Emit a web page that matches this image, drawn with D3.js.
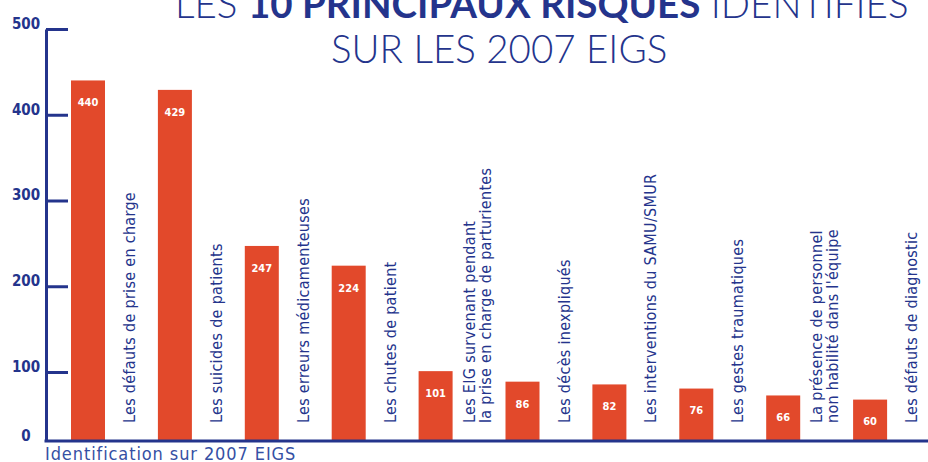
<!DOCTYPE html>
<html>
<head>
<meta charset="utf-8">
<script src="https://cdn.jsdelivr.net/npm/d3@7"></script>
<style>
  html, body { margin: 0; padding: 0; background: #fff; overflow: hidden; }
  svg { display: block; }
</style>
</head>
<body>
<div id="chart"></div>
<script>
// Les 10 principaux risques identifiés sur les 2007 EIGS
const categories = [
  ['Les défauts de prise en charge'],
  ['Les suicides de patients'],
  ['Les erreurs médicamenteuses'],
  ['Les chutes de patient'],
  ['Les EIG survenant pendant', 'la prise en charge de parturientes'],
  ['Les décès inexpliqués'],
  ['Les interventions du SAMU/SMUR'],
  ['Les gestes traumatiques'],
  ['La présence de personnel', 'non habilité dans l\'équipe'],
  ['Les défauts de diagnostic']
];
const values = [440, 429, 247, 224, 101, 86, 82, 76, 66, 60];
const yTicks = [0, 100, 200, 300, 400, 500];

const navy = '#24348c';
const red = '#e2492b';

const width = 928, height = 462;
const svg = d3.select('#chart').append('svg')
  .attr('width', width)
  .attr('height', height);

const data = categories.map((c, i) => ({ key: c.join(' '), lines: c, value: values[i] }));

const x = d3.scaleBand()
  .domain(data.map(d => d.key))
  .range([58, 927])
  .padding(0);

// the printed axis is uneven between 0 and 100, hence the polylinear scale
const y = d3.scaleLinear()
  .domain([0, 100, 500])
  .range([441, 372, 29]);

// Title (first line is cut by the top edge, as in the original)
const title = svg.append('g')
  .attr('fill', navy)
  .style('font-family', 'Lato, "Open Sans", sans-serif')
  .style('font-size', '38.5px')
  .style('font-weight', 300);

const t1 = title.append('text').attr('x', 175).attr('y', 18);
t1.append('tspan').text('LES ');
t1.append('tspan').style('font-weight', 700).text('10 PRINCIPAUX RISQUES');
t1.append('tspan').text(' IDENTIFIÉS');

title.append('text').attr('x', 331).attr('y', 63).text('SUR LES 2007 EIGS');

// Bars
const barW = 34;
svg.selectAll('.bar')
  .data(data)
  .enter()
  .append('rect')
  .attr('class', 'bar')
  .attr('x', d => x(d.key) + 13)
  .attr('y', d => y(d.value))
  .attr('width', barW)
  .attr('height', d => y(0) - y(d.value))
  .attr('fill', red);

// Value labels inside bars
svg.selectAll('.val')
  .data(data)
  .enter()
  .append('text')
  .attr('class', 'val')
  .attr('x', d => x(d.key) + 13 + barW / 2)
  .attr('y', d => y(d.value) + 22)
  .attr('dy', '0.35em')
  .attr('text-anchor', 'middle')
  .attr('fill', '#fff')
  .style('font-family', '"Liberation Sans Narrow", "DejaVu Sans Condensed", sans-serif')
  .style('font-stretch', 'condensed')
  .style('font-weight', 700)
  .style('font-size', '11px')
  .text(d => d.value);

// Category labels, rotated, next to each bar
const labels = svg.selectAll('.cat')
  .data(data)
  .enter()
  .append('text')
  .attr('class', 'cat')
  .attr('transform', d => `translate(${x(d.key) + 77 - (d.lines.length - 1) * 8},423) rotate(-90)`)
  .attr('fill', navy)
  .style('font-family', '"Liberation Sans Narrow", "DejaVu Sans Condensed", sans-serif')
  .style('font-stretch', 'condensed')
  .style('font-size', '16px')
  .style('letter-spacing', '0.3px');

labels.selectAll('tspan')
  .data(d => d.lines)
  .enter()
  .append('tspan')
  .attr('x', 0)
  .attr('y', (l, i) => i * 16)
  .text(l => l);

// Y axis (ticks point inward)
const yAxis = svg.append('g')
  .attr('transform', 'translate(46,0)')
  .call(d3.axisLeft(y).tickValues(yTicks).tickSize(-22).tickSizeOuter(0).tickFormat(d3.format('d')));

yAxis.select('.domain').attr('stroke', navy).attr('stroke-width', 3);
yAxis.selectAll('.tick line').attr('stroke', navy).attr('stroke-width', 3)
  .filter(d => d === 0).remove();
yAxis.selectAll('.tick text')
  .attr('x', -20)
  .attr('dy', '-0.05em')
  .attr('text-anchor', 'middle')
  .attr('fill', navy)
  .style('font-family', '"Liberation Sans Narrow", "DejaVu Sans Condensed", sans-serif')
  .style('font-weight', 700)
  .style('font-size', '15px');

// baseline
svg.append('line')
  .attr('x1', 44.5).attr('x2', width)
  .attr('y1', y(0)).attr('y2', y(0))
  .attr('stroke', navy)
  .attr('stroke-width', 3);

// Source line
svg.append('text')
  .attr('x', 45)
  .attr('y', 460)
  .attr('fill', '#3550a4')
  .style('font-family', '"Liberation Sans Narrow", "DejaVu Sans Condensed", sans-serif')
  .style('font-size', '18px')
  .style('letter-spacing', '0.9px')
  .text('Identification sur 2007 EIGS');
</script>
</body>
</html>
